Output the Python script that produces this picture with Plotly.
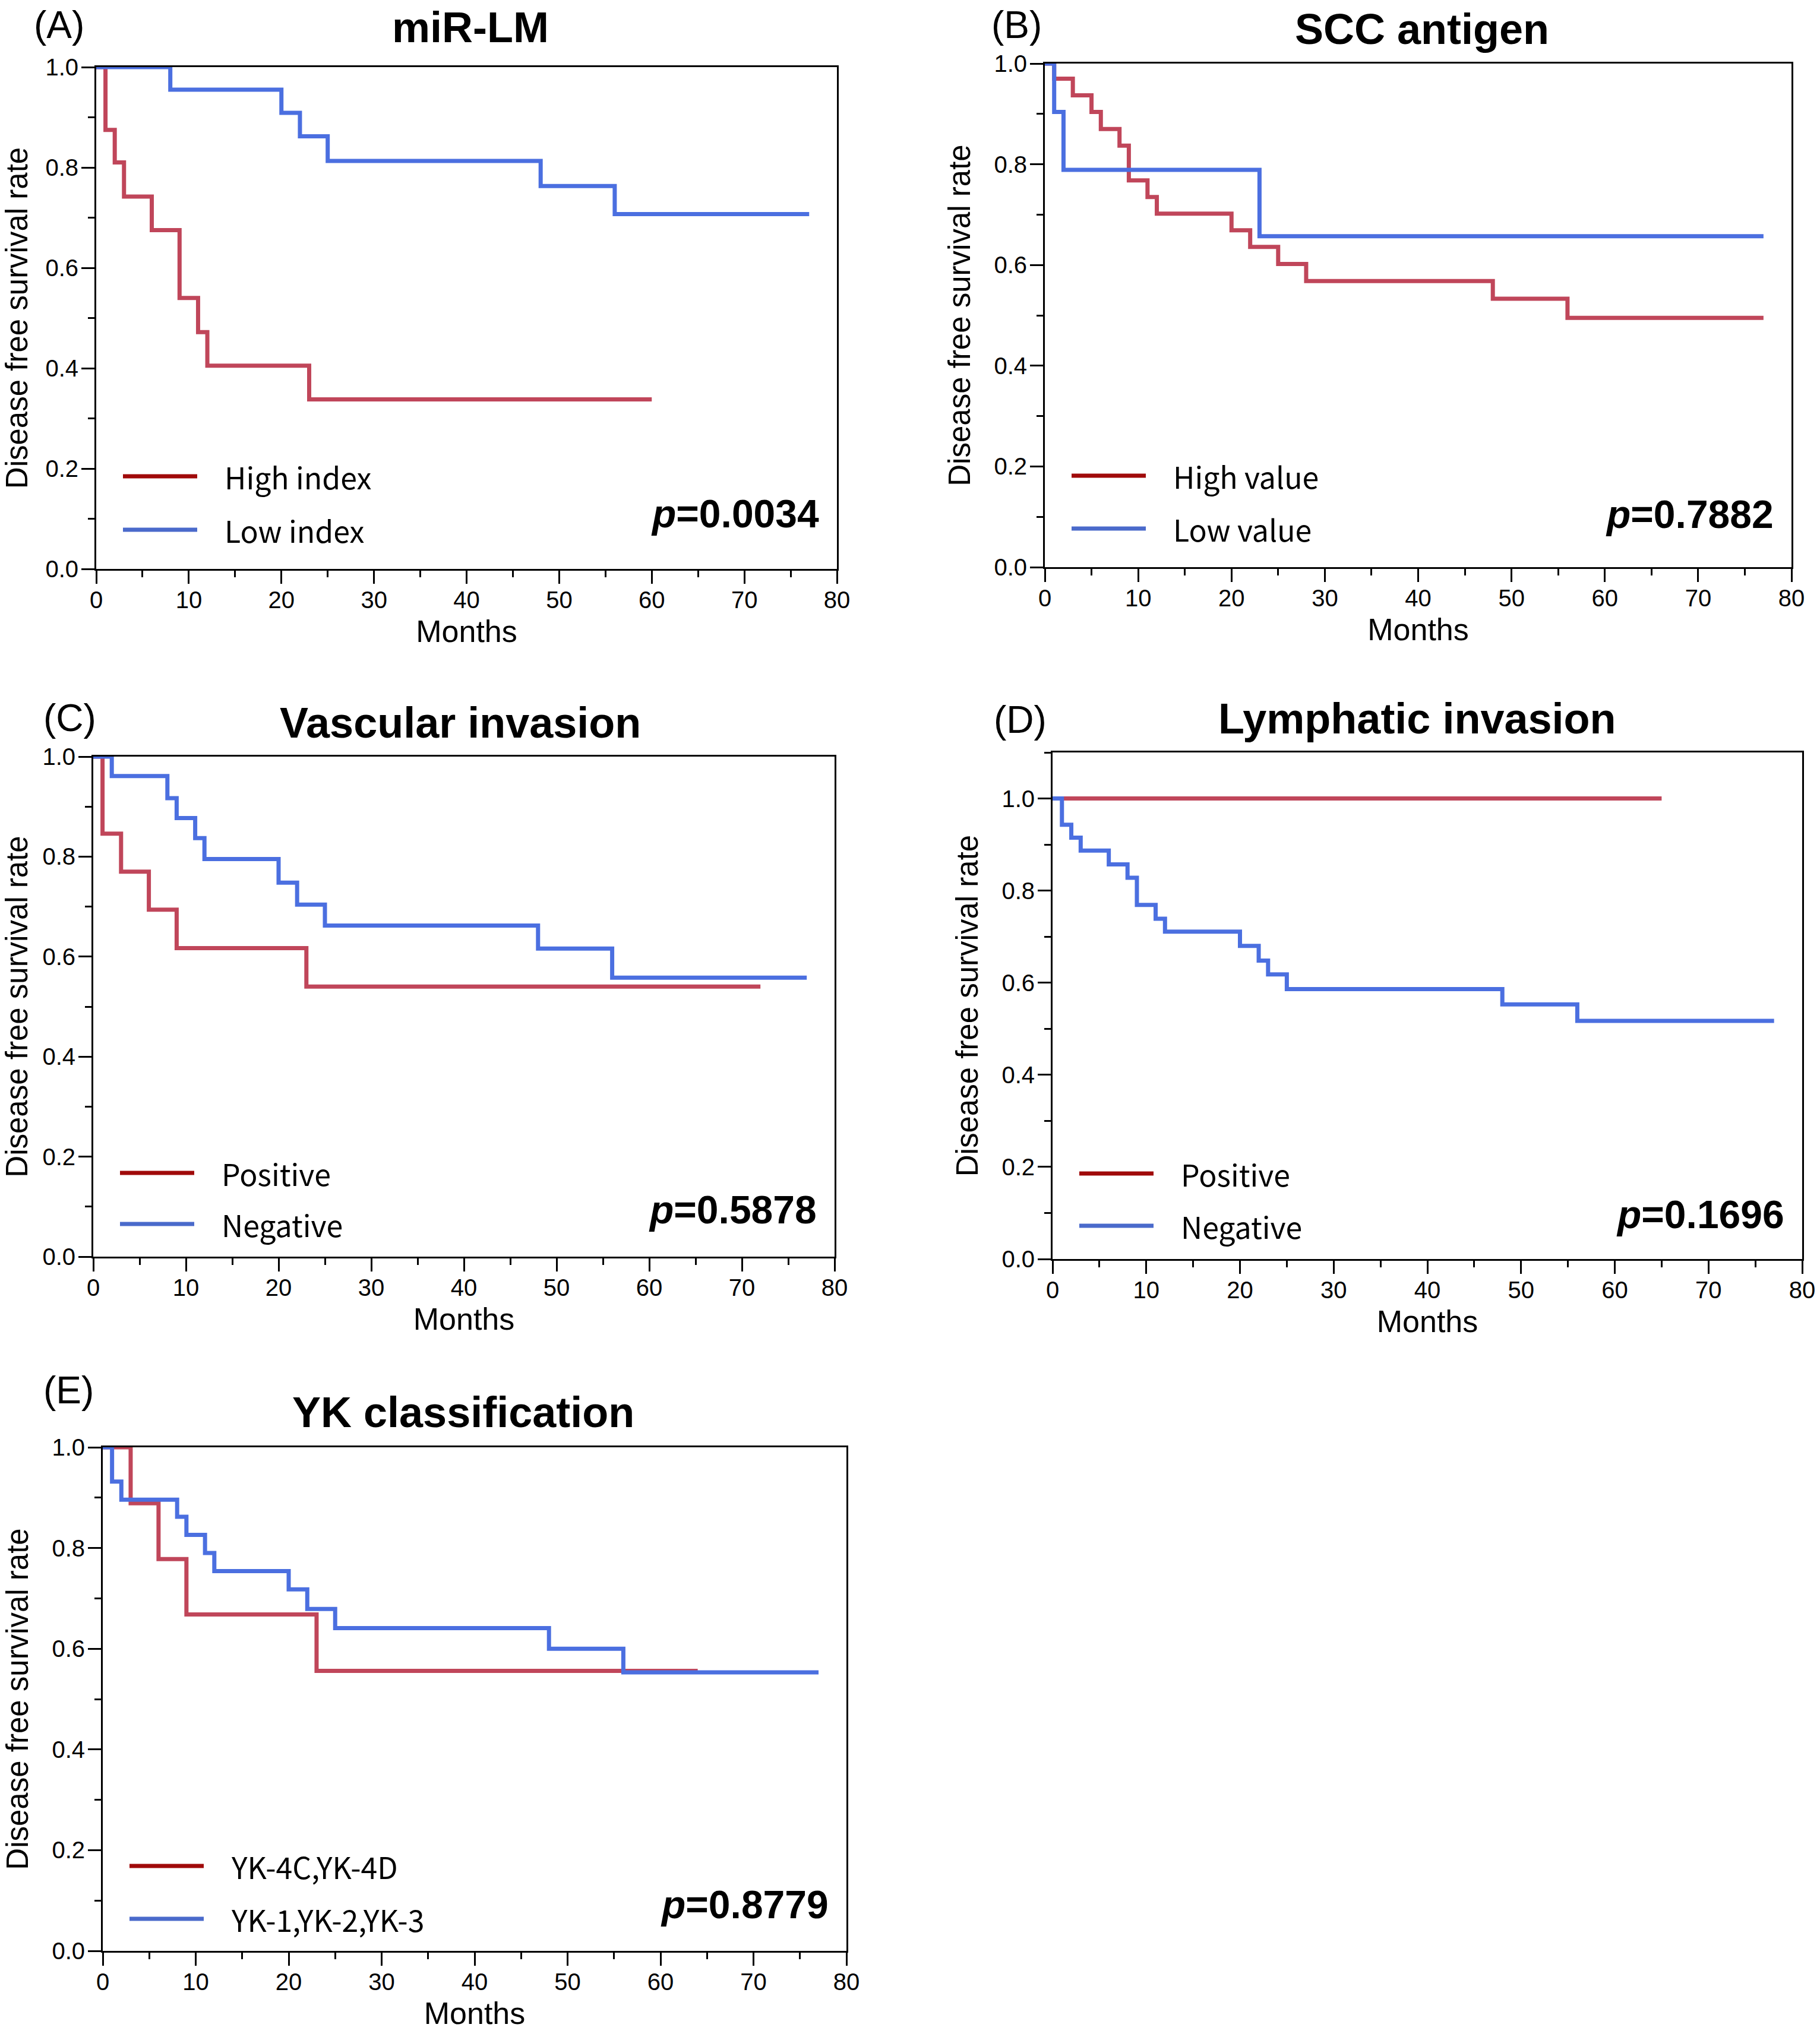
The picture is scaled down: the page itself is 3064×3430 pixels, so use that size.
import plotly.graph_objects as go

W, H = 3064, 3430

# ---------------- data ----------------
panel_letters = ["(A)", "(B)", "(C)", "(D)", "(E)"]
panel_titles = ["miR-LM", "SCC antigen", "Vascular invasion", "Lymphatic invasion", "YK classification"]
p_values = ["0.0034", "0.7882", "0.5878", "0.1696", "0.8779"]
red_labels = ["High index", "High value", "Positive", "Positive", "YK-4C,YK-4D"]
blue_labels = ["Low index", "Low value", "Negative", "Negative", "YK-1,YK-2,YK-3"]

A_red_t = [0, 1, 2, 3, 6, 9, 11, 12, 23, 60]
A_red_s = [1.0, 0.875, 0.810, 0.742, 0.675, 0.540, 0.472, 0.405, 0.338, 0.338]
A_blue_t = [0, 8, 20, 22, 25, 48, 56, 77]
A_blue_s = [1.0, 0.955, 0.909, 0.862, 0.813, 0.763, 0.707, 0.707]

B_red_t = [0, 1, 3, 5, 6, 8, 9, 11, 12, 20, 22, 25, 28, 48, 56, 77]
B_red_s = [1.0, 0.970, 0.937, 0.904, 0.870, 0.837, 0.768, 0.735, 0.702, 0.669, 0.636, 0.602, 0.568, 0.533, 0.495, 0.495]
B_blue_t = [0, 1, 2, 23, 77]
B_blue_s = [1.0, 0.904, 0.789, 0.657, 0.657]

C_red_t = [0, 1, 3, 6, 9, 23, 72]
C_red_s = [1.0, 0.846, 0.770, 0.694, 0.617, 0.540, 0.540]
C_blue_t = [0, 2, 8, 9, 11, 12, 20, 22, 25, 48, 56, 77]
C_blue_s = [1.0, 0.961, 0.917, 0.877, 0.837, 0.795, 0.748, 0.704, 0.662, 0.616, 0.558, 0.558]

D_red_t = [0, 65]
D_red_s = [1.0, 1.0]
D_blue_t = [0, 1, 2, 3, 6, 8, 9, 11, 12, 20, 22, 23, 25, 48, 56, 77]
D_blue_s = [1.0, 0.943, 0.915, 0.887, 0.857, 0.828, 0.769, 0.739, 0.711, 0.680, 0.648, 0.618, 0.586, 0.553, 0.517, 0.517]

E_red_t = [0, 3, 6, 9, 23, 64]
E_red_s = [1.0, 0.889, 0.778, 0.668, 0.556, 0.556]
E_blue_t = [0, 1, 2, 8, 9, 11, 12, 20, 22, 25, 48, 56, 77]
E_blue_s = [1.0, 0.932, 0.896, 0.862, 0.826, 0.790, 0.754, 0.718, 0.679, 0.641, 0.600, 0.553, 0.553]

x_ticks = [0, 10, 20, 30, 40, 50, 60, 70, 80]
y_ticks = [0.0, 0.2, 0.4, 0.6, 0.8, 1.0]
y_max = [1.0, 1.0, 1.0, 1.1, 1.0]

series = [
    (A_red_t, A_red_s, A_blue_t, A_blue_s),
    (B_red_t, B_red_s, B_blue_t, B_blue_s),
    (C_red_t, C_red_s, C_blue_t, C_blue_s),
    (D_red_t, D_red_s, D_blue_t, D_blue_s),
    (E_red_t, E_red_s, E_blue_t, E_blue_s),
]

# ---------------- layout (pixels) ----------------
# plot boxes: left, top, right, bottom
boxes = [
    (162, 113, 1409, 958),
    (1759, 107, 3016, 955),
    (157, 1274, 1405, 2116),
    (1772, 1267, 3034, 2120),
    (173, 2437, 1425, 3285),
]
title_pos = [(792, 46), (2394, 49), (775, 1217), (2385, 1210), (780, 2378)]
letter_pos = [(55, 42), (1667, 42), (71, 1209), (1671, 1212), (71, 2341)]
legend_dy = [(156, 66), (154, 65), (141, 55), (144, 56), (143, 54)]
p_dy = [93, 89, 79, 75, 78]

RED = "#C0465A"
BLUE = "#4B6FE0"
RED_LEG = "#A00A0A"
BLUE_LEG = "#4A6ACB"
ARIAL = "Liberation Sans, Arial, sans-serif"
JP = "Noto Sans CJK JP, Noto Sans, sans-serif"


def px(x):
    return x / W


def py(y):
    return 1 - y / H


fig = go.Figure()
annotations = []
shapes = []

for i in range(5):
    rt, rs, bt, bs = series[i]
    xa = "x" if i == 0 else f"x{i+1}"
    ya = "y" if i == 0 else f"y{i+1}"
    fig.add_trace(go.Scatter(x=rt, y=rs, mode="lines", line=dict(color=RED, width=7, shape="hv"),
                             xaxis=xa, yaxis=ya, showlegend=False, name=red_labels[i]))
    fig.add_trace(go.Scatter(x=bt, y=bs, mode="lines", line=dict(color=BLUE, width=7, shape="hv"),
                             xaxis=xa, yaxis=ya, showlegend=False, name=blue_labels[i]))

    l, t, r, b = boxes[i]
    axis_common = dict(showline=True, linecolor="black", linewidth=3, mirror=True,
                       ticks="outside", ticklen=22, tickwidth=3, tickcolor="black",
                       showgrid=False, zeroline=False,
                       tickfont=dict(family=ARIAL, size=40, color="black"),
                       automargin=False)
    xkey = "xaxis" if i == 0 else f"xaxis{i+1}"
    ykey = "yaxis" if i == 0 else f"yaxis{i+1}"
    fig.layout[xkey] = dict(
        axis_common, domain=[px(l), px(r)], range=[0, 80], tickvals=x_ticks,
        ticklabelstandoff=-7,
        minor=dict(dtick=5, ticklen=11, tickwidth=3, tickcolor="black", ticks="outside", showgrid=False),
        anchor=ya,
        title=dict(text="Months", font=dict(family=ARIAL, size=52, color="black"), standoff=14),
    )
    fig.layout[ykey] = dict(
        axis_common, domain=[py(b), py(t)], range=[0, y_max[i]], tickvals=y_ticks,
        tickformat=".1f", ticklabelstandoff=-3,
        minor=dict(dtick=0.1, ticklen=11, tickwidth=3, tickcolor="black", ticks="outside", showgrid=False),
        anchor=xa,
        title=dict(text="Disease free survival rate", font=dict(family=ARIAL, size=51, color="black"), standoff=24),
    )

    # panel title and letter
    tx, ty = title_pos[i]
    annotations.append(dict(x=px(tx), y=py(ty), xref="paper", yref="paper", text=f"<b>{panel_titles[i]}</b>",
                            showarrow=False, xanchor="center", yanchor="middle",
                            font=dict(family=ARIAL, size=72, color="black")))
    lx, ly = letter_pos[i]
    annotations.append(dict(x=px(lx), y=py(ly), xref="paper", yref="paper", text=panel_letters[i],
                            showarrow=False, xanchor="left", yanchor="middle",
                            font=dict(family=ARIAL, size=64, color="black")))

    # legend (drawn inside plot)
    d1, d2 = legend_dy[i]
    for (dy, col, lab) in ((d1, RED_LEG, red_labels[i]), (d2, BLUE_LEG, blue_labels[i])):
        yy = b - dy
        shapes.append(dict(type="line", xref="paper", yref="paper", x0=px(l + 45), x1=px(l + 170),
                           y0=py(yy), y1=py(yy), line=dict(color=col, width=7)))
        annotations.append(dict(x=px(l + 214), y=py(yy), xref="paper", yref="paper", text=lab,
                                showarrow=False, xanchor="left", yanchor="middle",
                                font=dict(family=JP, size=50, color="black")))

    # p value
    annotations.append(dict(x=px(r - 28), y=py(b - p_dy[i]), xref="paper", yref="paper",
                            text=f"<b><i>p</i>=" + p_values[i] + "</b>",
                            showarrow=False, xanchor="right", yanchor="middle",
                            font=dict(family=ARIAL, size=66, color="black")))

fig.update_layout(width=W, height=H, autosize=False, margin=dict(l=0, r=0, t=0, b=0),
                  paper_bgcolor="white", plot_bgcolor="white",
                  annotations=annotations, shapes=shapes, showlegend=False)

fig.write_html("out.html", config={"displayModeBar": False},
               post_script="document.body.style.margin='0';document.body.style.padding='0';")
